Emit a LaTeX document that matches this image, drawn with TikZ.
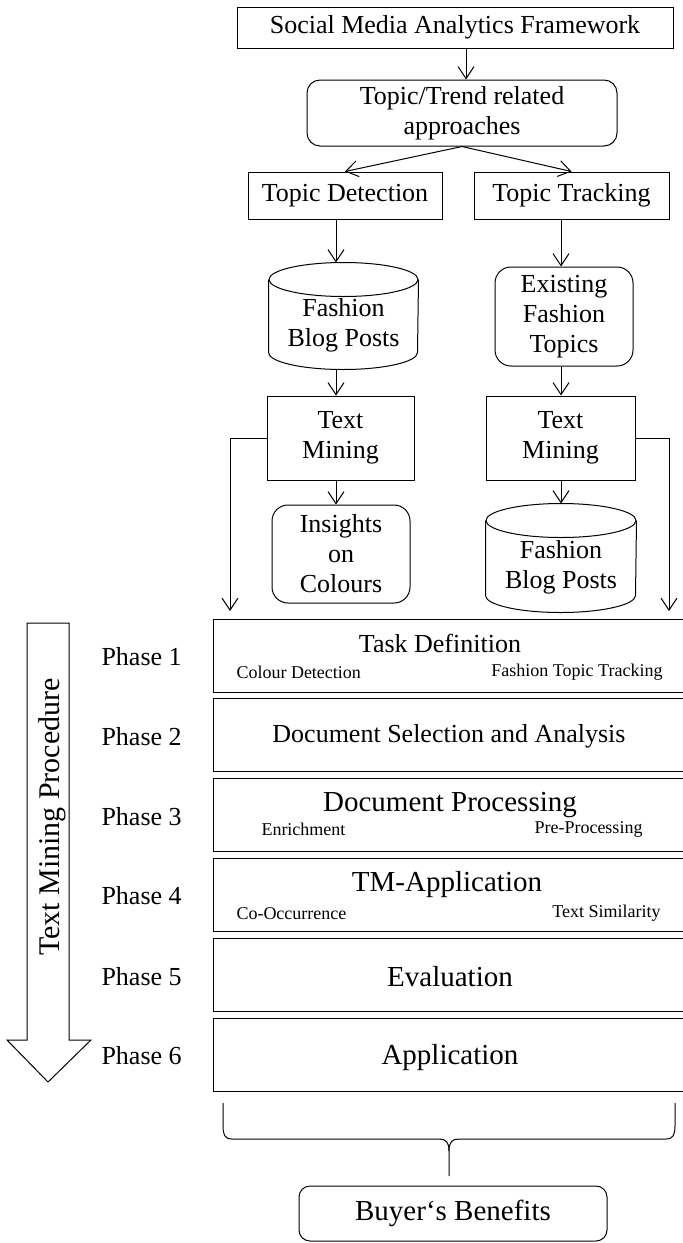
\documentclass[tikz,border=0pt]{standalone}
\usepackage{fontspec}
\setmainfont{Liberation Serif}
\usetikzlibrary{arrows.meta}
\newcommand\fsmed{\fontsize{26}{30}\selectfont}
\newcommand\fsbig{\fontsize{29}{33}\selectfont}
\newcommand\fssmall{\fontsize{18}{21}\selectfont}
\newcommand\fsside{\fontsize{30}{34}\selectfont}
\begin{document}
\begin{tikzpicture}[x=1pt,y=-1pt,line width=1pt,
  box/.style={draw,inner sep=0pt,align=center,font=\fsmed},
  rbox/.style={box,rounded corners=13pt},
  ghost/.style={inner sep=0pt,align=center,font=\fsmed},
  phasebox/.style={draw,inner sep=0pt,minimum width=472pt,minimum height=73pt},
  title/.style={inner sep=0pt,font=\fsbig},
  subtitle/.style={inner sep=0pt,font=\fsmed},
  tag/.style={inner sep=0pt,font=\fssmall},
  phase/.style={inner sep=0pt,anchor=west,font=\fsmed},
  arr/.style={-{Straight Barb[length=12pt,width=16pt]}},
]
\useasboundingbox (0,0) rectangle (683,1243);
\clip (0,0) rectangle (683,1243);

% column guides for the vertical connectors
\coordinate (col0) at (466,0);
\coordinate (col1) at (336,0);
\coordinate (col2) at (561,0);

% framework and approaches
\node[box,minimum width=436pt,minimum height=41pt] (smaf) at (455,27.5) {Social Media Analytics Framework};
\node[rbox,minimum width=310pt,minimum height=66pt] (ttra) at (462,113) {Topic/Trend related\\approaches};
\node[box,minimum width=194pt,minimum height=47pt] (td) at (345,195.5) {Topic Detection};
\node[box,minimum width=195pt,minimum height=47pt] (tt) at (571.5,195.5) {Topic Tracking};

% left branch
\node[ghost,minimum width=149pt,minimum height=106pt] (cyl1) at (343.5,316) {};
\draw ([yshift=-17pt]cyl1.north west) -- ([yshift=17pt]cyl1.south west)
  arc[start angle=180,end angle=360,x radius=74.5pt,y radius=17pt]
  -- ([yshift=-17pt]cyl1.north east);
\draw ([yshift=-17pt]cyl1.north) ellipse [x radius=74.5pt,y radius=17pt];
\node[ghost] (cyl1t) at (343.5,325) {Fashion\\Blog Posts};
\node[box,minimum width=147pt,minimum height=84pt] (tm1) at (340.5,438) {Text\\Mining};
\node[rbox,rounded corners=16pt,minimum width=138pt,minimum height=98pt] (ins) at (341,554) {Insights\\on\\Colours};

% right branch
\node[rbox,rounded corners=16pt,minimum width=138pt,minimum height=99pt] (eft) at (564,316.5) {Existing\\Fashion\\Topics};
\node[box,minimum width=149pt,minimum height=84pt] (tm2) at (560.5,438) {Text\\Mining};
\node[ghost,minimum width=150pt,minimum height=108pt] (cyl2) at (561,558) {};
\draw ([yshift=-17pt]cyl2.north west) -- ([yshift=17pt]cyl2.south west)
  arc[start angle=180,end angle=360,x radius=75pt,y radius=17pt]
  -- ([yshift=-17pt]cyl2.north east);
\draw ([yshift=-17pt]cyl2.north) ellipse [x radius=75pt,y radius=17pt];
\node[ghost] (cyl2t) at (561,567) {Fashion\\Blog Posts};

% connectors
\draw[arr] (smaf.south -| col0) -- (ttra.north -| col0);
\draw[arr] (ttra.south) -- (td.north);
\draw[arr] (ttra.south) -- (tt.north);
\draw[arr] (td.south -| col1) -- (cyl1.north -| col1);
\draw[arr] (cyl1.south -| col1) -- (tm1.north -| col1);
\draw[arr] (tm1.south -| col1) -- (ins.north -| col1);
\draw[arr] (tt.south -| col2) -- (eft.north -| col2);
\draw[arr] (eft.south -| col2) -- (tm2.north -| col2);
\draw[arr] (tm2.south -| col2) -- (cyl2.north -| col2);
\coordinate (lin) at (230,611);
\coordinate (rin) at (669,611);
\draw[arr] (tm1.west) -| (lin);
\draw[arr] (tm2.east) -| (rin);

% text mining phases
\node[phasebox] (p1) at (449,655.5) {};
\node[phasebox] (p2) at (449,735.3) {};
\node[phasebox] (p3) at (449,815.1) {};
\node[phasebox] (p4) at (449,894.9) {};
\node[phasebox] (p5) at (449,974.7) {};
\node[phasebox] (p6) at (449,1054.5) {};

\node[subtitle] (p1t) at (440,643) {Task Definition};
\node[tag,anchor=west] (p1a) at (236,672) {Colour Detection};
\node[tag,anchor=east] (p1b) at (663,672) {Fashion Topic Tracking};
\node[subtitle] (p2t) at (449,736) {Document Selection and Analysis};
\node[title] (p3t) at (450,805) {Document Processing};
\node[tag,anchor=west] (p3a) at (261,829) {Enrichment};
\node[tag,anchor=east] (p3b) at (643,829) {Pre-Processing};
\node[title] (p4t) at (447,885) {TM-Application};
\node[tag,anchor=west] (p4a) at (236,914) {Co-Occurrence};
\node[tag,anchor=east] (p4b) at (661,913) {Text Similarity};
\node[title] (p5t) at (450,977) {Evaluation};
\node[title] (p6t) at (450,1058) {Application};

\node[phase] (ph1) at (101,657) {Phase 1};
\node[phase] (ph2) at (101,737) {Phase 2};
\node[phase] (ph3) at (101,817) {Phase 3};
\node[phase] (ph4) at (101,896) {Phase 4};
\node[phase] (ph5) at (101,977) {Phase 5};
\node[phase] (ph6) at (101,1056) {Phase 6};

% procedure arrow
\draw (27,623) -- (69,623) -- (69,1040) -- (91,1040) -- (48,1082) -- (7,1040) -- (27,1040) -- cycle;
\node[inner sep=0pt,rotate=90,font=\fsside] (proc) at (52,817) {Text Mining Procedure};

% brace and outcome
\draw (223,1103) -- (223,1126) .. controls (223,1135) and (225,1139) .. (232,1139)
  -- (439,1139) .. controls (446,1139) and (449,1142) .. (449,1151) -- (449,1176);
\draw (675,1103) -- (675,1126) .. controls (675,1135) and (673,1139) .. (666,1139)
  -- (459,1139) .. controls (452,1139) and (449,1142) .. (449,1151);
\node[rbox,rounded corners=11pt,font=\fsbig,minimum width=308pt,minimum height=55pt] (bb) at (453,1213.5) {Buyer‘s Benefits};
\end{tikzpicture}
\end{document}
